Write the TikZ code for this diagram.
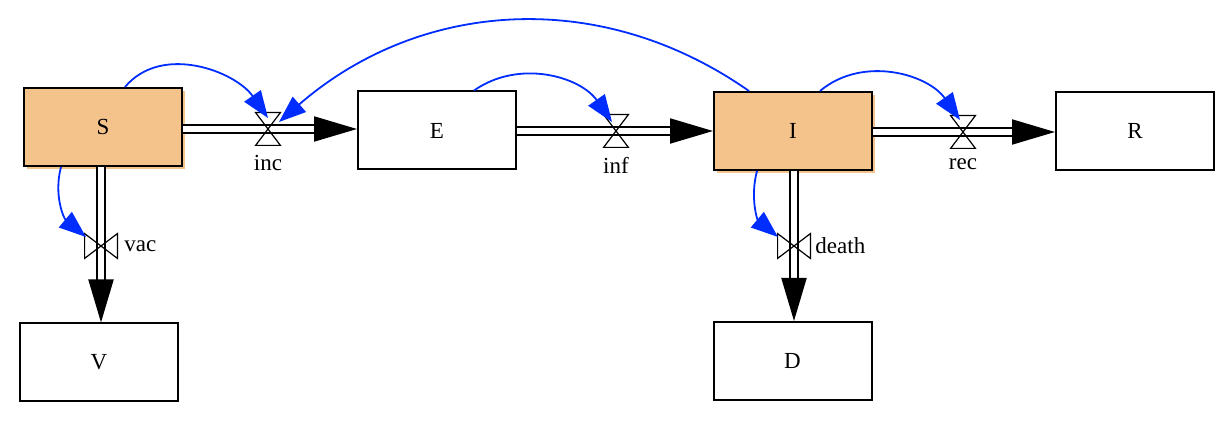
\documentclass[tikz,border=0pt]{standalone}
\usepackage{fontspec}
\setmainfont{Liberation Serif}
\usetikzlibrary{positioning,arrows.meta,shadows}
\definecolor{stockorange}{RGB}{244,195,139}
\definecolor{linkblue}{RGB}{0,45,255}
\begin{document}
\begin{tikzpicture}[
        x=0.5pt, y=0.5pt,
        font=\fontsize{11.5}{13}\selectfont,
        stockbox/.style={
            draw, line width=1pt,
            minimum width=79pt, minimum height=39pt
        },
        hotbox/.style={
            stockbox, fill=stockorange,
            general shadow={fill=stockorange, shadow xshift=1.5pt, shadow yshift=-1.5pt}
        },
        flow/.style={
            draw, line width=1pt, double, double distance=2.8pt,
            -{Triangle[length=21.5pt, width=12.5pt]}
        },
        valve/.style={inner sep=0pt, minimum width=12pt, minimum height=16pt},
        vvalve/.style={inner sep=0pt, minimum width=16pt, minimum height=12pt},
        bowtie/.style={draw, line width=0.6pt},
        link/.style={
            draw=linkblue, line width=0.9pt,
            -{Triangle[length=13.5pt, width=10pt]}
        }
    ]
    \useasboundingbox (0,0) rectangle (1228,428);

    \node[hotbox] (S) at (103,301) {S};
    \node[stockbox] (E) at (437,297.5) {E};
    \node[hotbox] (I) at (793,297) {I};
    \node[stockbox] (R) at (1135,297) {R};
    \node[stockbox] (V) at (99,65.5) {V};
    \node[stockbox] (D) at (792.5,67) {D};

    \node[valve] (inc) at (268,299) {};
    \node[valve] (inf) at (616,297) {};
    \node[valve] (rec) at (963,296) {};
    \node[vvalve] (vac) at (101,182) {};
    \node[vvalve] (death) at (794,182) {};

    \node[below=1.5pt of inc] (inc label) {inc};
    \node[below=1.5pt of inf] (inf label) {inf};
    \node[below=1.5pt of rec] (rec label) {rec};
    \node[right=0pt of vac] (vac label) {vac};
    \node[right=-1pt of death] (death label) {death};

    % flows
    \draw[flow] (S.east |- inc.center) -- (inc.center -| E.west);
    \draw[flow] (E.east |- inf.center) -- (inf.center -| I.west);
    \draw[flow] (I.east |- rec.center) -- (rec.center -| R.west);
    \draw[flow] (S.south -| vac.center) -- (vac.center |- V.north);
    \draw[flow] (I.south -| death.center) -- (death.center |- D.north);

    \draw[bowtie] (inc.north west) -- (inc.south east) -- (inc.south west) -- (inc.north east) -- cycle;
    \draw[bowtie] (inf.north west) -- (inf.south east) -- (inf.south west) -- (inf.north east) -- cycle;
    \draw[bowtie] (rec.north west) -- (rec.south east) -- (rec.south west) -- (rec.north east) -- cycle;
    \draw[bowtie] (vac.north west) -- (vac.south east) -- (vac.north east) -- (vac.south west) -- cycle;
    \draw[bowtie] (death.north west) -- (death.south east) -- (death.north east) -- (death.south west) -- cycle;

    % links
    \draw[link] ([xshift=11pt]S.north) to[out=50, in=125] ([yshift=5.5pt]inc.center);
    \draw[link] ([xshift=-22pt]I.north) to[out=145, in=41] ([xshift=5.5pt, yshift=3.5pt]inc.center);
    \draw[link] ([xshift=18.5pt]E.north) to[out=35, in=125] ([xshift=-2pt, yshift=4.5pt]inf.center);
    \draw[link] ([xshift=13.5pt]I.north) to[out=40, in=125] ([xshift=-1.5pt, yshift=6pt]rec.center);
    \draw[link] ([xshift=-21pt]S.south) to[out=-105, in=140] ([xshift=-7.5pt, yshift=4.5pt]vac.center);
    \draw[link] ([xshift=-18pt]I.south) to[out=-105, in=140] ([xshift=-8pt, yshift=4.5pt]death.center);
\end{tikzpicture}
\end{document}
